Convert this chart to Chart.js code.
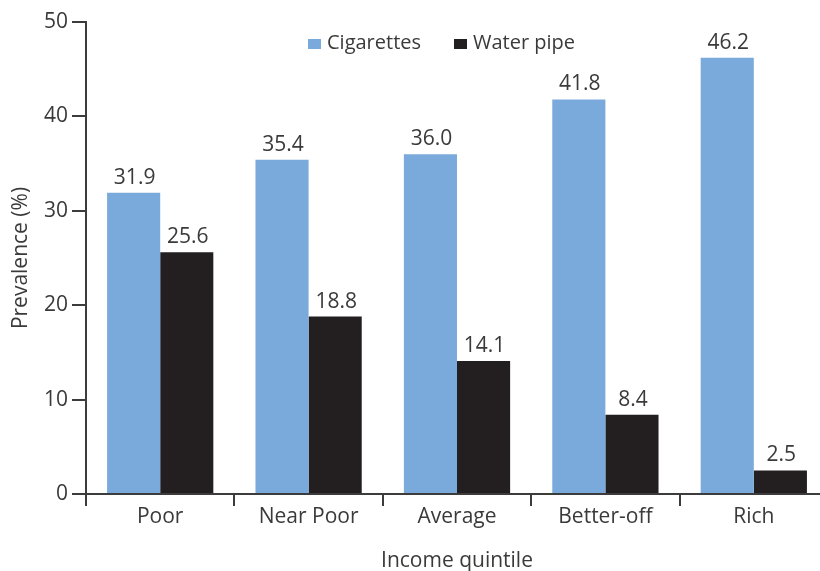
<!DOCTYPE html>
<html>
<head>
<meta charset="utf-8">
<script src="https://cdn.jsdelivr.net/npm/chart.js@4.4.1/dist/chart.umd.min.js"></script>
<style>
  html, body { margin: 0; padding: 0; background: #fff; overflow: hidden; }
  #wrap { width: 830px; height: 571px; }
</style>
</head>
<body>
<div id="wrap"><canvas id="chart" width="830" height="571"></canvas></div>
<script>
// Smoking prevalence by income quintile
const categories = ['Poor', 'Near Poor', 'Average', 'Better-off', 'Rich'];
const cigarettes = [31.9, 35.4, 36.0, 41.8, 46.2];
const waterPipe = [25.6, 18.8, 14.1, 8.4, 2.5];
const yTicks = [0, 10, 20, 30, 40, 50];
const yTitle = 'Prevalence (%)';
const xTitle = 'Income quintile';

const FONT = "'Open Sans', 'DejaVu Sans', sans-serif";
const TEXT = '#3a3a3a';
const AXIS = '#3c3c3c';

// Numbers printed above each bar
const valueLabels = {
  id: 'valueLabels',
  afterDatasetsDraw(chart) {
    const ctx = chart.ctx;
    ctx.save();
    ctx.font = '21px ' + FONT;
    ctx.fillStyle = TEXT;
    ctx.textAlign = 'center';
    ctx.textBaseline = 'alphabetic';
    chart.data.datasets.forEach((ds, i) => {
      chart.getDatasetMeta(i).data.forEach((bar, j) => {
        ctx.fillText(ds.data[j].toFixed(1), bar.x + 1, bar.y - 9);
      });
    });
    ctx.restore();
  }
};

// Legend inside the plot, near the top
const innerLegend = {
  id: 'innerLegend',
  afterDraw(chart) {
    const ctx = chart.ctx;
    ctx.save();
    ctx.font = '20px ' + FONT;
    ctx.textBaseline = 'alphabetic';
    const starts = [308, 454];
    chart.data.datasets.forEach((ds, i) => {
      const x = starts[i];
      ctx.fillStyle = ds.backgroundColor;
      ctx.fillRect(x, 39, 13, 10);
      ctx.fillStyle = TEXT;
      ctx.textAlign = 'left';
      ctx.fillText(ds.label, x + 19, 49);
    });
    ctx.restore();
  }
};

// Rotated title for the value axis, centred on the plot height
const yAxisTitle = {
  id: 'yAxisTitle',
  afterDraw(chart) {
    const ctx = chart.ctx;
    const area = chart.chartArea;
    ctx.save();
    ctx.font = '21px ' + FONT;
    ctx.fillStyle = TEXT;
    ctx.textAlign = 'center';
    ctx.textBaseline = 'middle';
    ctx.translate(21, (area.top + area.bottom) / 2);
    ctx.rotate(-Math.PI / 2);
    ctx.fillText(yTitle, 0, 0);
    ctx.restore();
  }
};

new Chart(document.getElementById('chart'), {
  type: 'bar',
  data: {
    labels: categories,
    datasets: [
      { label: 'Cigarettes', data: cigarettes, backgroundColor: '#7aaadb' },
      { label: 'Water pipe', data: waterPipe, backgroundColor: '#231f20' }
    ]
  },
  options: {
    responsive: false,
    animation: false,
    events: [],
    layout: { padding: { top: 22, right: 2, left: 0, bottom: 0 } },
    datasets: { bar: { categoryPercentage: 0.716, barPercentage: 1.0 } },
    plugins: { legend: { display: false }, tooltip: { enabled: false } },
    scales: {
      x: {
        afterFit(scale) { scale.height = 77; },
        grid: { offset: true, drawOnChartArea: false, drawTicks: true, tickLength: 12, color: AXIS, lineWidth: 2 },
        border: { display: true, color: AXIS, width: 2 },
        ticks: { color: TEXT, font: { family: FONT, size: 21 }, padding: -2 },
        title: { display: true, text: xTitle, color: TEXT, font: { family: FONT, size: 21 }, padding: { top: 0, bottom: -3 } }
      },
      y: {
        min: 0,
        max: 50,
        afterFit(scale) { scale.width = 86; },
        afterBuildTicks(scale) { scale.ticks = yTicks.map(v => ({ value: v })); },
        grid: { drawOnChartArea: false, drawTicks: true, tickLength: 14, color: AXIS, lineWidth: 2 },
        border: { display: true, color: AXIS, width: 2 },
        ticks: { color: TEXT, font: { family: FONT, size: 21 }, padding: 4 },
        title: { display: false }
      }
    }
  },
  plugins: [valueLabels, innerLegend, yAxisTitle]
});
</script>
</body>
</html>
